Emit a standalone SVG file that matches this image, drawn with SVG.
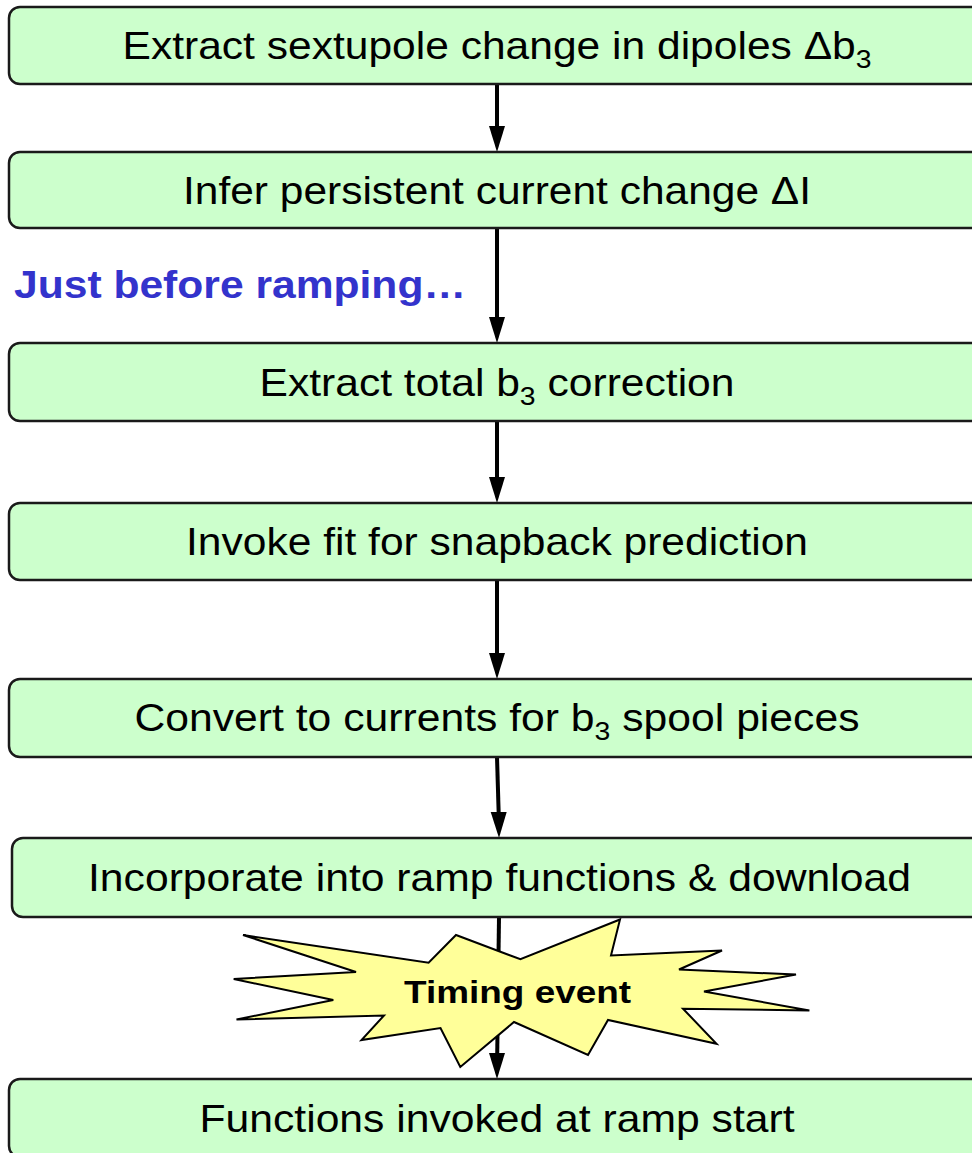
<svg xmlns="http://www.w3.org/2000/svg" width="972" height="1153" viewBox="0 0 972 1153">
  <style>
    .box { fill: #ccffcc; stroke: #1a1a1a; stroke-width: 2.5; }
    .lbl { font-family: "Liberation Sans", Arial, sans-serif; font-size: 39px; fill: #000; text-anchor: middle; }
    .sub { font-size: 26px; }
    .wire { stroke: #000; stroke-width: 4; fill: none; }
    .head { fill: #000; stroke: none; }
    .note { font-family: "Liberation Sans", Arial, sans-serif; font-size: 39px; font-weight: bold; fill: #3333cc; }
    .star { fill: #ffff99; stroke: #000; stroke-width: 2; stroke-linejoin: miter; }
    .starlbl { font-family: "Liberation Sans", Arial, sans-serif; font-size: 32px; font-weight: bold; fill: #000; text-anchor: middle; }
  </style>

  <!-- connectors -->
  <g id="connectors">
    <line class="wire" x1="497" y1="84" x2="497" y2="128"/>
    <polygon class="head" points="489,126 505,126 497,152"/>
    <line class="wire" x1="497" y1="228" x2="497" y2="319"/>
    <polygon class="head" points="489,317 505,317 497,343"/>
    <line class="wire" x1="497" y1="421" x2="497" y2="479"/>
    <polygon class="head" points="489,477 505,477 497,503"/>
    <line class="wire" x1="497" y1="580" x2="497" y2="655"/>
    <polygon class="head" points="489,653 505,653 497,679"/>
    <line class="wire" x1="497" y1="757" x2="498.7" y2="814"/>
    <polygon class="head" points="490.7,812 506.7,812 499,838"/>
    <line class="wire" x1="499" y1="917" x2="497.2" y2="1055"/>
    <polygon class="head" points="489,1053 505,1053 497,1079"/>
  </g>

  <g id="n1">
    <rect class="box" x="9" y="7" width="976" height="77" rx="11"/>
    <text class="lbl" x="497" y="59" textLength="749" lengthAdjust="spacingAndGlyphs">Extract sextupole change in dipoles Δb<tspan class="sub" dy="9">3</tspan></text>
  </g>

  <g id="n2">
    <rect class="box" x="9" y="152" width="976" height="76" rx="11"/>
    <text class="lbl" x="497" y="204" textLength="628" lengthAdjust="spacingAndGlyphs">Infer persistent current change ΔI</text>
  </g>

  <text id="note" class="note" x="14" y="298" textLength="452" lengthAdjust="spacingAndGlyphs">Just before ramping…</text>

  <g id="n3">
    <rect class="box" x="9" y="343" width="976" height="78" rx="11"/>
    <text class="lbl" x="497" y="396" textLength="475" lengthAdjust="spacingAndGlyphs">Extract total b<tspan class="sub" dy="9">3</tspan><tspan dy="-9"> correction</tspan></text>
  </g>

  <g id="n4">
    <rect class="box" x="9" y="503" width="976" height="77" rx="11"/>
    <text class="lbl" x="497" y="555" textLength="622" lengthAdjust="spacingAndGlyphs">Invoke fit for snapback prediction</text>
  </g>

  <g id="n5">
    <rect class="box" x="9" y="679" width="976" height="78" rx="11"/>
    <text class="lbl" x="497" y="731" textLength="725" lengthAdjust="spacingAndGlyphs">Convert to currents for b<tspan class="sub" dy="9">3</tspan><tspan dy="-9"> spool pieces</tspan></text>
  </g>

  <g id="n6">
    <rect class="box" x="12" y="838" width="976" height="79" rx="11"/>
    <text class="lbl" x="499.5" y="891" textLength="823" lengthAdjust="spacingAndGlyphs">Incorporate into ramp functions &amp; download</text>
  </g>

  <g id="timing">
    <polygon class="star" points="243,935 428.6,962.7 456,935 520.4,959.3 620,919.5 611,955.5 722,950.5 679,969.5 796,974.5 704,991.5 809.4,1010.5 683,1008.7 716.5,1043.7 608,1020 588,1055 514,1022 460.3,1067 440.5,1028 361.5,1040 384,1015.5 236.5,1019.5 333.3,1000 233.7,979 356,972"/>
    <text class="starlbl" x="517.6" y="1003" textLength="227" lengthAdjust="spacingAndGlyphs">Timing event</text>
  </g>

  <g id="n7">
    <rect class="box" x="9" y="1079" width="976" height="78" rx="11"/>
    <text class="lbl" x="497" y="1132" textLength="595" lengthAdjust="spacingAndGlyphs">Functions invoked at ramp start</text>
  </g>
</svg>
